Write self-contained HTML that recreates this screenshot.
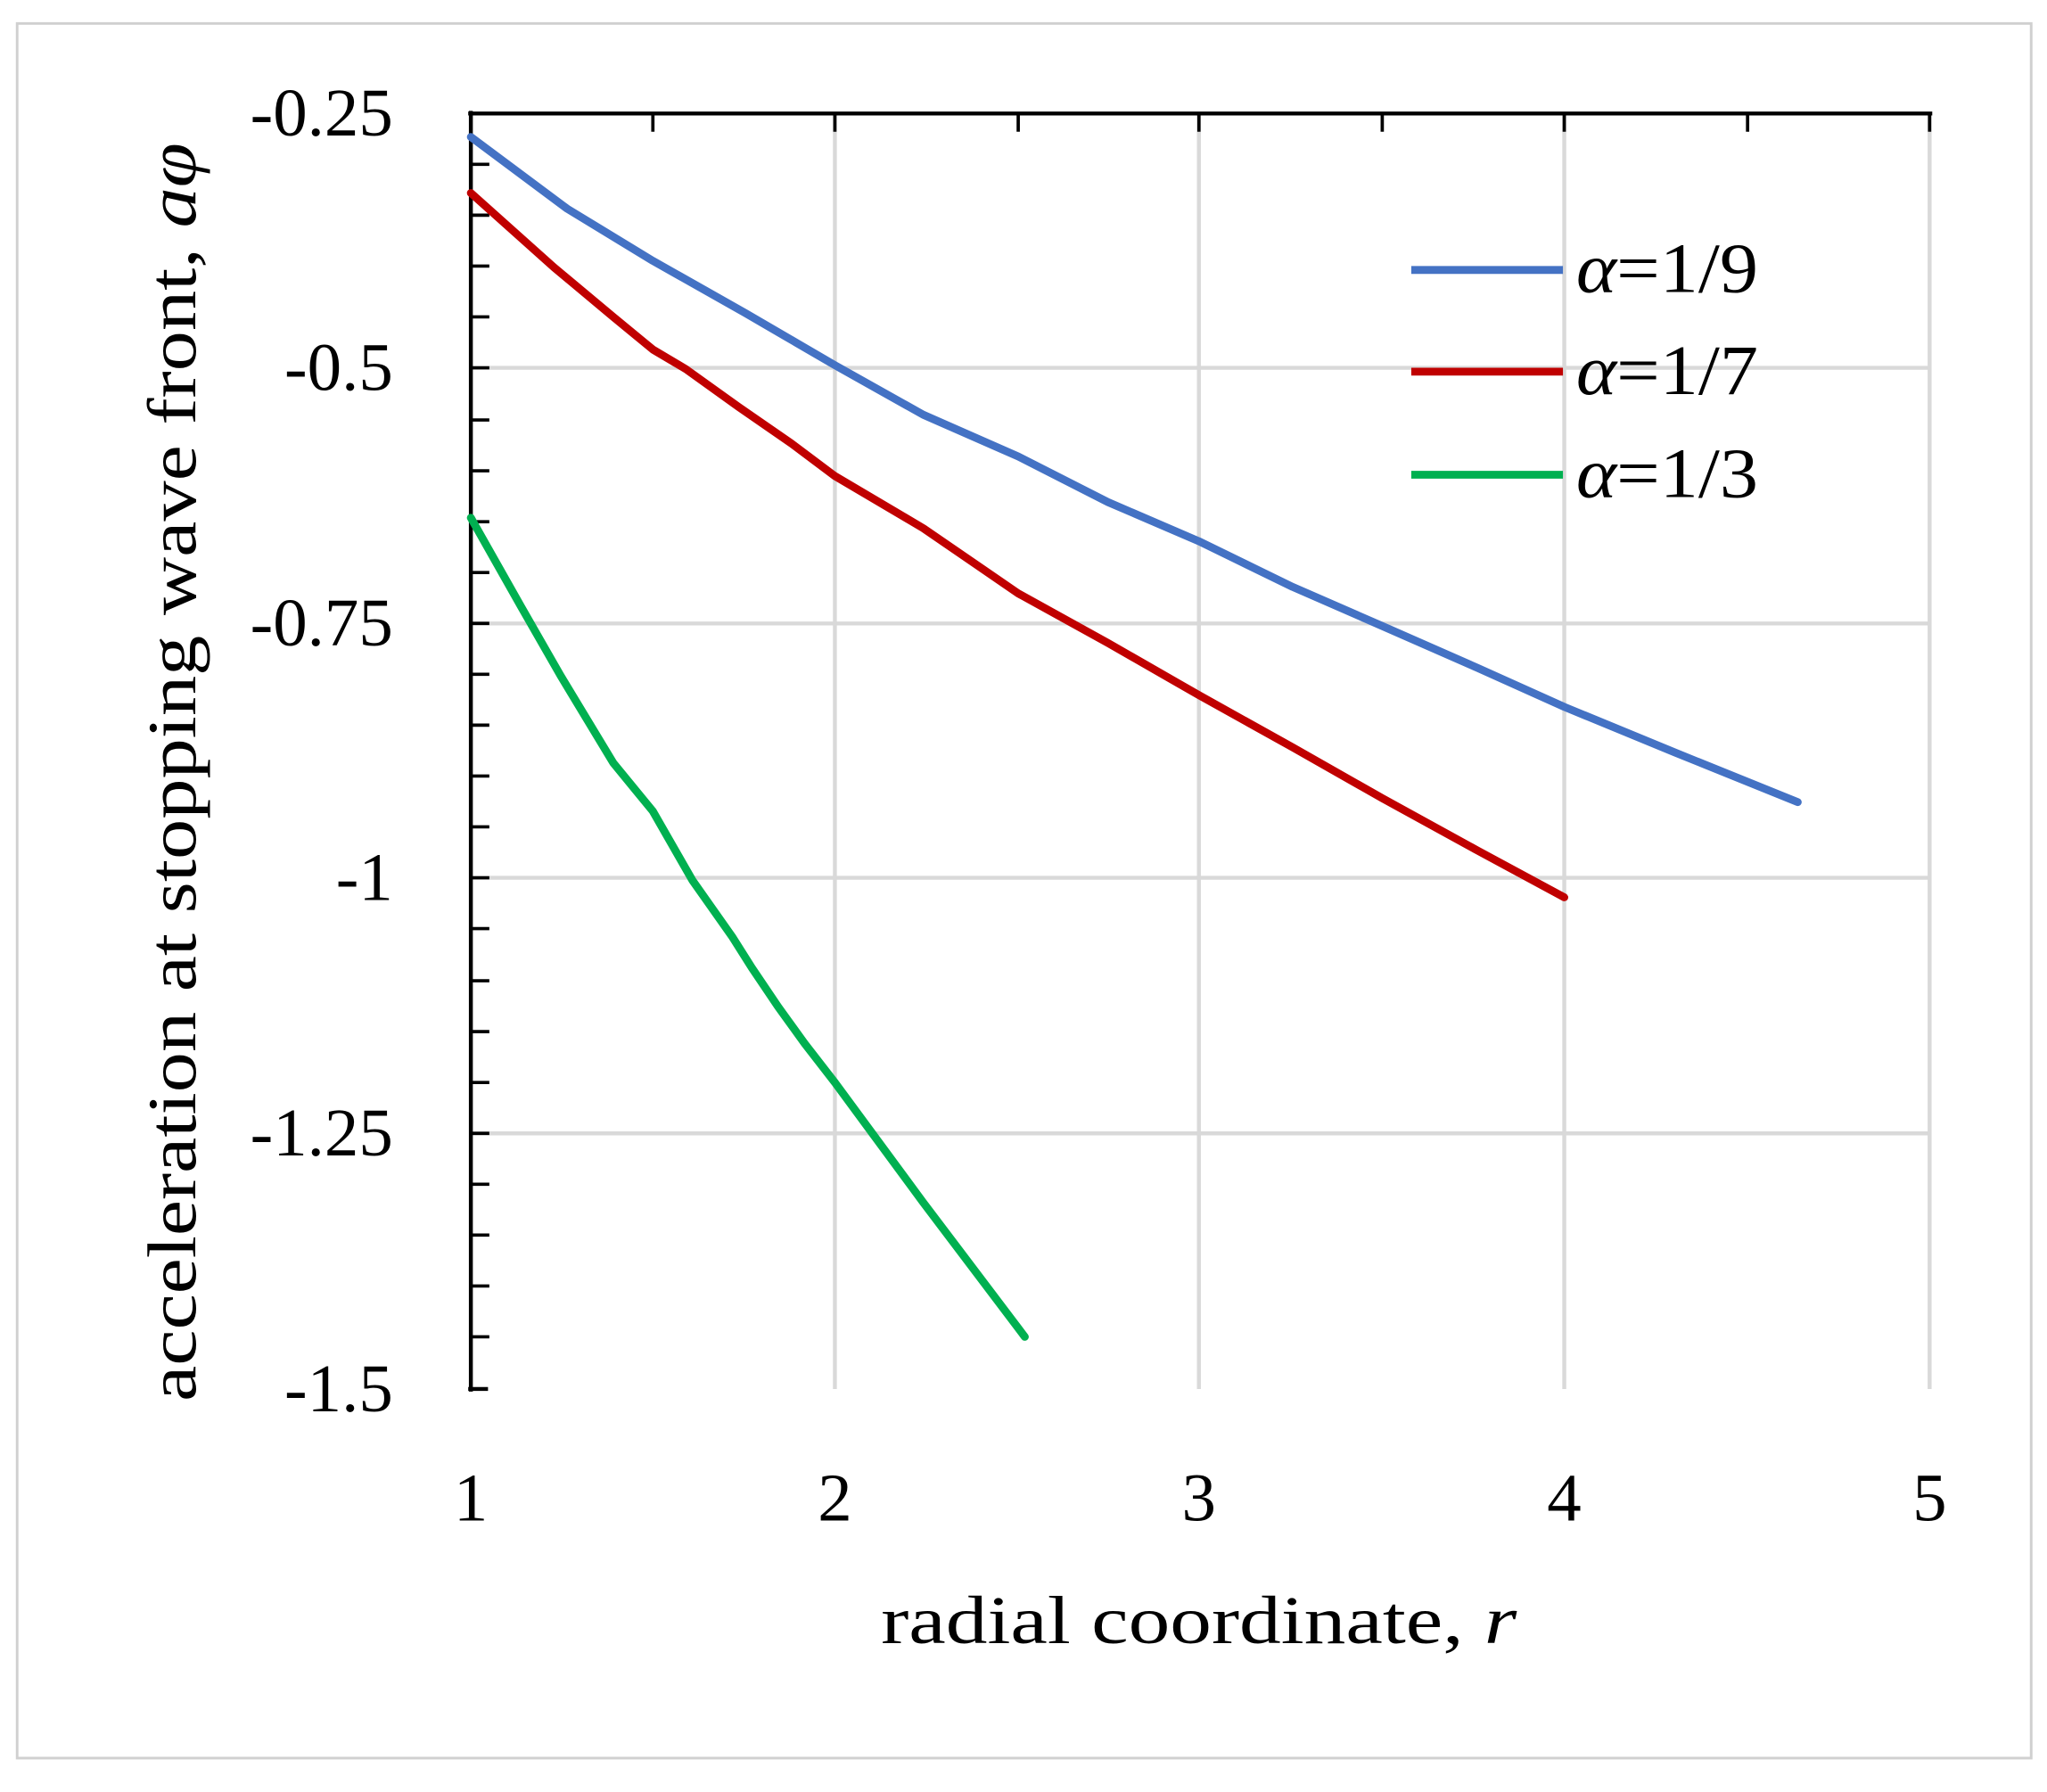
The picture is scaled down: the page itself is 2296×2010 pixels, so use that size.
<!DOCTYPE html>
<html><head><style>html,body{margin:0;padding:0;background:#fff}svg{display:block}</style></head>
<body>
<svg width="2296" height="2010" viewBox="0 0 1552 1374" preserveAspectRatio="none" xmlns="http://www.w3.org/2000/svg" font-family="'Liberation Serif', serif">
<rect x="13" y="18" width="1527" height="1330" fill="#fff" stroke="#d0d0d0" stroke-width="2"/>
<g stroke="#d9d9d9" stroke-width="3">
<line x1="357" y1="282" x2="1463" y2="282"/>
<line x1="357" y1="478" x2="1463" y2="478"/>
<line x1="357" y1="673" x2="1463" y2="673"/>
<line x1="357" y1="869" x2="1463" y2="869"/>
<line x1="633" y1="87" x2="633" y2="1065"/>
<line x1="909" y1="87" x2="909" y2="1065"/>
<line x1="1186" y1="87" x2="1186" y2="1065"/>
<line x1="1463" y1="87" x2="1463" y2="1065"/>
</g>
<g stroke="#000" stroke-width="3">
<line x1="355" y1="87" x2="1465" y2="87"/>
<line x1="357" y1="85" x2="357" y2="1067"/>
<line x1="355" y1="1065" x2="370" y2="1065"/>
</g>
<g stroke="#000" stroke-width="2.5">
<path d="M357 126h14M357 165h14M357 204h14M357 243h14M357 282h14M357 322h14M357 361h14M357 400h14M357 439h14M357 478h14M357 517h14M357 556h14M357 595h14M357 634h14M357 673h14M357 712h14M357 752h14M357 791h14M357 830h14M357 869h14M357 908h14M357 947h14M357 986h14M357 1025h14"/>
<path d="M495 87v14M633 87v14M772 87v14M909 87v14M1048 87v14M1186 87v14M1325 87v14M1463 87v14"/>
</g>
<g fill="none" stroke-width="6" stroke-linejoin="round" stroke-linecap="round">
<path stroke="#4472c4" d="M357 105 L430 160 L495 200 L565 240 L633 280 L700 318 L772 350 L840 385 L909 415 L980 450 L1048 480 L1120 512 L1186 542 L1270 577 L1363 615"/>
<path stroke="#c00000" d="M357 148 L420 205 L465 243 L495 268 L520 283 L560 312 L600 340 L633 365 L700 405 L772 455 L840 493 L909 533 L980 573 L1048 612 L1120 652 L1186 688"/>
<path stroke="#00b050" d="M357 397 L395 465 L425 518 L465 585 L495 622 L525 675 L555 718 L570 742 L590 772 L610 800 L633 830 L700 922 L777 1025"/>
</g>
<g stroke-width="6">
<line x1="1070" y1="207" x2="1185" y2="207" stroke="#4472c4"/>
<line x1="1070" y1="285" x2="1185" y2="285" stroke="#c00000"/>
<line x1="1070" y1="364" x2="1185" y2="364" stroke="#00b050"/>
</g>
<g font-size="54" fill="#000">
<text x="1195" y="224" textLength="138" lengthAdjust="spacingAndGlyphs"><tspan font-style="italic">α</tspan>=1/9</text>
<text x="1195" y="302" textLength="138" lengthAdjust="spacingAndGlyphs"><tspan font-style="italic">α</tspan>=1/7</text>
<text x="1195" y="381" textLength="138" lengthAdjust="spacingAndGlyphs"><tspan font-style="italic">α</tspan>=1/3</text>
</g>
<g font-size="52" text-anchor="end" fill="#000">
<text x="298" y="104">-0.25</text>
<text x="298" y="299">-0.5</text>
<text x="298" y="495">-0.75</text>
<text x="298" y="690">-1</text>
<text x="298" y="886">-1.25</text>
<text x="298" y="1082">-1.5</text>
</g>
<g font-size="52" text-anchor="middle" fill="#000">
<text x="357" y="1166">1</text>
<text x="633" y="1166">2</text>
<text x="909" y="1166">3</text>
<text x="1186" y="1166">4</text>
<text x="1463" y="1166">5</text>
<text x="909" y="1260" textLength="482" lengthAdjust="spacingAndGlyphs">radial coordinate, <tspan font-style="italic">r</tspan></text>
<text transform="translate(148,592) rotate(-90)" textLength="965" lengthAdjust="spacingAndGlyphs">acceleration at stopping wave front, <tspan font-style="italic">aφ</tspan></text>
</g>
</svg>
</body></html>
